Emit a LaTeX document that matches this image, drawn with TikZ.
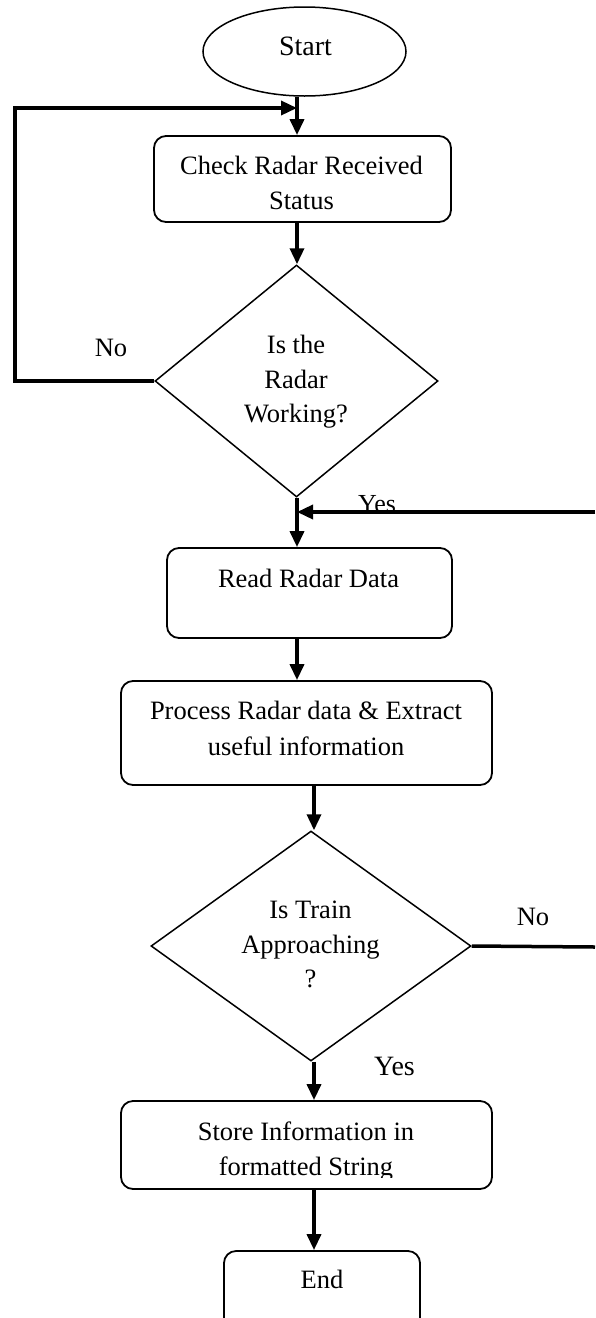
\documentclass[tikz,border=0pt]{standalone}
\usepackage{fontspec}
\setmainfont{Liberation Serif}
\usetikzlibrary{shapes.geometric,arrows.meta}
\begin{document}
\begin{tikzpicture}[x=1pt,y=1pt,
  flow/.style={line width=3.5pt,-{Triangle[length=16pt,width=14pt]}},
  wire/.style={line width=3.5pt},
  procbox/.style={draw,line width=1.8pt,rounded corners=12pt,inner sep=0pt},
  decision/.style={draw,diamond,line width=1.5pt,inner sep=0pt},
  terminal/.style={draw,ellipse,line width=1.5pt,inner sep=0pt},
  txt/.style={font=\fontsize{26.5}{35}\selectfont,anchor=base,inner sep=0pt},
]
\useasboundingbox (0,0) rectangle (595,-1318);

% columns of the main flow
\coordinate (colA) at (297,0);
\coordinate (colB) at (314,0);

% shapes
\node[terminal,minimum width=203pt,minimum height=89pt] (start) at (304.5,-51.5) {};
\node[procbox,minimum width=297pt,minimum height=86pt] (check) at (302.5,-179) {};
\node[decision,minimum width=283pt,minimum height=232pt] (dec1) at (296.5,-381) {};
\node[procbox,minimum width=285pt,minimum height=90pt] (read) at (309.5,-593) {};
\node[procbox,minimum width=371pt,minimum height=104pt] (proc) at (306.5,-733) {};
\node[decision,minimum width=320pt,minimum height=230pt] (dec2) at (311,-946) {};
\node[procbox,minimum width=371pt,minimum height=88pt] (store) at (306.5,-1145) {};
\node[procbox,minimum width=196pt,minimum height=90pt] (end) at (322,-1296) {};

% texts
\node[txt,font=\fontsize{28}{35}\selectfont] (tstart) at (305.5,-55) {Start};
\node[txt] (tcheckA) at (301.5,-174) {Check Radar Received};
\node[txt] (tcheckB) at (301.5,-209) {Status};
\node[txt] (tdecA) at (296,-353) {Is the};
\node[txt] (tdecB) at (296,-388) {Radar};
\node[txt] (tdecC) at (296,-422) {Working?};
\node[txt] (tread) at (308.5,-587) {Read Radar Data};
\node[txt] (tprocA) at (306,-719) {Process Radar data \& Extract};
\node[txt] (tprocB) at (306,-755) {useful information};
\node[txt] (tdecD) at (310.5,-918) {Is Train};
\node[txt] (tdecE) at (310.5,-953) {Approaching};
\node[txt] (tdecF) at (310.5,-987) {?};
\begin{scope}
  \clip (121,-1100) rectangle (492,-1177);
  \node[txt] (tstoreA) at (306,-1140) {Store Information in};
  \node[txt] (tstoreB) at (306,-1175) {formatted String};
\end{scope}
\node[txt] (tend) at (322,-1288) {End};

% branch labels
\node[txt] (lno1) at (111,-356) {No};
\node[txt,font=\fontsize{26}{30}\selectfont] (lyes1) at (377,-512) {Yes};
\node[txt] (lno2) at (533,-925) {No};
\node[txt,font=\fontsize{28}{30}\selectfont] (lyes2) at (394.5,-1075) {Yes};

% connectors
\coordinate (loopTop) at (15,-108);
\coordinate (yesR) at (595,-512);
\coordinate (noR) at (595,-947);

\draw[flow] (start.south -| colA) -- (check.north -| colA);
\draw[flow] (check.south -| colA) -- (dec1.north -| colA);
\draw[flow,line join=miter] (dec1.west) -- (dec1.west -| loopTop) -- (loopTop) -- (loopTop -| colA);
\draw[flow] (dec1.south -| colA) -- (read.north -| colA);
\draw[flow] (yesR) -- (yesR -| colA);
\draw[flow] (read.south -| colA) -- (proc.north -| colA);
\draw[flow] (proc.south -| colB) -- (dec2.north -| colB);
\draw[wire] (dec2.east) -- (noR);
\draw[flow] (dec2.south -| colB) -- (store.north -| colB);
\draw[flow] (store.south -| colB) -- (end.north -| colB);
\end{tikzpicture}
\end{document}
